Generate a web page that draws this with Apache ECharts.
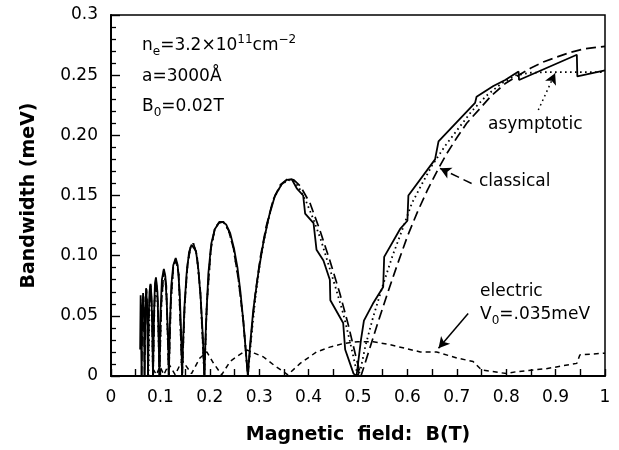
<!DOCTYPE html>
<html>
<head>
<meta charset="utf-8">
<title>Bandwidth vs magnetic field</title>
<script src="https://cdn.jsdelivr.net/npm/echarts@6/dist/echarts.min.js"></script>
<style>
  html, body { margin: 0; padding: 0; background: #fff; }
  #chart { width: 619px; height: 450px; }
</style>
</head>
<body>
<div id="chart"></div>
<script>
// [B (T), bandwidth (meV)]
const quantum = [
  [0.059, 0.022], [0.060, 0.067], [0.061, 0.030], [0.062, 0.000],
  [0.063, 0.050], [0.065, 0.069], [0.067, 0.045], [0.068, 0.000],
  [0.069, 0.040], [0.071, 0.073], [0.073, 0.060], [0.075, 0.000],
  [0.076, 0.045], [0.078, 0.070], [0.080, 0.0765], [0.082, 0.066], [0.084, 0.030], [0.085, 0.000],
  [0.087, 0.050], [0.089, 0.077], [0.091, 0.082], [0.094, 0.070], [0.096, 0.040], [0.098, 0.000],
  [0.100, 0.050], [0.103, 0.080], [0.107, 0.089], [0.110, 0.083], [0.113, 0.060], [0.116, 0.025], [0.117, 0.000],
  [0.119, 0.040], [0.122, 0.075], [0.126, 0.092], [0.131, 0.098], [0.135, 0.092], [0.139, 0.070], [0.142, 0.035], [0.144, 0.000],
  [0.146, 0.030], [0.149, 0.060], [0.153, 0.085], [0.158, 0.103], [0.163, 0.109], [0.167, 0.110], [0.172, 0.104],
  [0.177, 0.088], [0.182, 0.062], [0.186, 0.032], [0.189, 0.000],
  [0.192, 0.040], [0.197, 0.085], [0.203, 0.110], [0.210, 0.122], [0.218, 0.127], [0.226, 0.128], [0.233, 0.126],
  [0.241, 0.119], [0.249, 0.106], [0.256, 0.090], [0.262, 0.070], [0.268, 0.045], [0.273, 0.020], [0.277, 0.000],
  [0.282, 0.028], [0.288, 0.055], [0.298, 0.085], [0.308, 0.110], [0.320, 0.133], [0.332, 0.150], [0.345, 0.159],
  [0.356, 0.163], [0.366, 0.1635], [0.376, 0.156], [0.389, 0.150], [0.393, 0.135], [0.410, 0.127], [0.416, 0.105],
  [0.430, 0.096], [0.443, 0.080], [0.444, 0.063], [0.470, 0.044], [0.474, 0.022], [0.491, 0.002], [0.497, 0.000],
  [0.506, 0.030], [0.512, 0.046], [0.530, 0.060], [0.551, 0.074], [0.553, 0.099], [0.585, 0.122], [0.600, 0.129],
  [0.602, 0.150], [0.656, 0.180], [0.663, 0.195], [0.700, 0.211], [0.737, 0.227], [0.740, 0.232], [0.774, 0.241],
  [0.798, 0.246], [0.825, 0.253], [0.826, 0.246], [0.943, 0.267], [0.944, 0.249], [1.000, 0.254]
];

const classical = [
  [0.062, 0.000], [0.064, 0.064], [0.066, 0.066], [0.068, 0.000],
  [0.070, 0.055], [0.072, 0.072], [0.074, 0.050], [0.075, 0.000],
  [0.077, 0.055], [0.080, 0.076], [0.083, 0.055], [0.085, 0.000],
  [0.088, 0.060], [0.091, 0.081], [0.095, 0.060], [0.098, 0.000],
  [0.102, 0.060], [0.107, 0.088], [0.112, 0.075], [0.117, 0.000],
  [0.121, 0.060], [0.126, 0.090], [0.131, 0.097], [0.137, 0.085], [0.144, 0.000],
  [0.149, 0.058], [0.155, 0.093], [0.161, 0.107], [0.167, 0.110], [0.174, 0.100], [0.181, 0.070], [0.189, 0.000],
  [0.194, 0.060], [0.202, 0.105], [0.210, 0.122], [0.219, 0.128], [0.228, 0.128], [0.238, 0.121], [0.248, 0.106],
  [0.258, 0.080], [0.268, 0.045], [0.277, 0.000],
  [0.284, 0.035], [0.292, 0.068], [0.302, 0.098], [0.314, 0.124], [0.328, 0.146], [0.343, 0.159], [0.358, 0.164],
  [0.370, 0.163], [0.383, 0.158], [0.403, 0.1435], [0.423, 0.121], [0.443, 0.096], [0.463, 0.069], [0.480, 0.043],
  [0.497, 0.014], [0.506, 0.000],
  [0.520, 0.018], [0.540, 0.044], [0.560, 0.069], [0.580, 0.093], [0.600, 0.116], [0.620, 0.136], [0.640, 0.154],
  [0.663, 0.1726], [0.680, 0.185], [0.700, 0.198], [0.720, 0.210], [0.744, 0.221], [0.770, 0.233], [0.798, 0.243],
  [0.821, 0.249], [0.850, 0.256], [0.875, 0.261], [0.902, 0.265], [0.930, 0.269], [0.960, 0.272], [1.000, 0.274]
];

const asymptotic = [
  [0.076, 0.000], [0.078, 0.060], [0.080, 0.075], [0.083, 0.050], [0.085, 0.000],
  [0.088, 0.060], [0.091, 0.081], [0.095, 0.055], [0.098, 0.000],
  [0.102, 0.060], [0.107, 0.088], [0.112, 0.072], [0.117, 0.000],
  [0.121, 0.060], [0.126, 0.090], [0.131, 0.097], [0.137, 0.085], [0.144, 0.000],
  [0.149, 0.058], [0.155, 0.093], [0.161, 0.107], [0.167, 0.110], [0.174, 0.100], [0.181, 0.068], [0.189, 0.000],
  [0.194, 0.060], [0.202, 0.105], [0.210, 0.122], [0.219, 0.128], [0.228, 0.128], [0.238, 0.121], [0.248, 0.106],
  [0.258, 0.080], [0.268, 0.045], [0.277, 0.000],
  [0.284, 0.032], [0.292, 0.064], [0.302, 0.095], [0.314, 0.122], [0.328, 0.146], [0.343, 0.158], [0.358, 0.163],
  [0.370, 0.162], [0.380, 0.157], [0.395, 0.145], [0.410, 0.130], [0.425, 0.113], [0.440, 0.093], [0.455, 0.073],
  [0.470, 0.052], [0.483, 0.030], [0.495, 0.008], [0.500, 0.000],
  [0.505, 0.005], [0.515, 0.025], [0.530, 0.048], [0.550, 0.075], [0.570, 0.100], [0.590, 0.122], [0.609, 0.1435],
  [0.630, 0.160], [0.650, 0.175], [0.676, 0.191], [0.700, 0.204], [0.730, 0.220], [0.760, 0.233], [0.790, 0.243],
  [0.820, 0.250], [0.850, 0.252], [0.880, 0.2525], [0.950, 0.2525], [1.000, 0.2525]
];

const electric = [
  [0.085, 0.006], [0.092, 0.001], [0.099, 0.008], [0.107, 0.001], [0.117, 0.010], [0.130, 0.001],
  [0.144, 0.013], [0.163, 0.002], [0.180, 0.015], [0.194, 0.020], [0.207, 0.011], [0.224, 0.001],
  [0.241, 0.012], [0.254, 0.016], [0.275, 0.0216], [0.290, 0.019], [0.308, 0.016], [0.330, 0.009],
  [0.358, 0.001], [0.383, 0.0105], [0.416, 0.020], [0.443, 0.024], [0.470, 0.027], [0.500, 0.0285],
  [0.531, 0.0285], [0.565, 0.026], [0.626, 0.020], [0.659, 0.020], [0.700, 0.015], [0.733, 0.012],
  [0.750, 0.005], [0.801, 0.002], [0.821, 0.0036], [0.880, 0.006], [0.943, 0.0105], [0.949, 0.0175],
  [1.000, 0.019]
];

const xTickLabels = ['0', '0.1', '0.2', '0.3', '0.4', '0.5', '0.6', '0.7', '0.8', '0.9', '1'];
const yTickLabels = ['0', '0.05', '0.10', '0.15', '0.20', '0.25', '0.3'];

// arrows: [tail, head] in data coords
const classicalArrow = [[0.730, 0.160], [0.666, 0.1726]];
const asymptoticArrow = [[0.865, 0.221], [0.899, 0.2516]];
const electricArrow = [[0.723, 0.052], [0.663, 0.023]];

const FONT = "'DejaVu Sans', sans-serif";
const INK = '#000';

const chart = echarts.init(document.getElementById('chart'));

function arrow(pts, type) {
  return {
    silent: true,
    animation: false,
    symbol: ['none', 'arrow'],
    symbolSize: [9, 11],
    label: { show: false },
    lineStyle: { color: INK, width: 1.5, type: type },
    emphasis: { disabled: true },
    data: [[{ coord: pts[0] }, { coord: pts[1] }]]
  };
}

function line(name, data, type, width, extra) {
  return Object.assign({
    name: name,
    type: 'line',
    data: data,
    showSymbol: false,
    symbol: 'none',
    smooth: false,
    clip: true,
    animation: false,
    lineStyle: { color: INK, width: width, type: type },
    z: 3
  }, extra || {});
}

const textStyle = { fontFamily: FONT, fontSize: 17, fill: INK };

const option = {
  backgroundColor: '#fff',
  grid: {
    left: 111, right: 14, top: 15, bottom: 74,
    show: true, borderColor: INK, borderWidth: 1.5
  },
  xAxis: {
    type: 'value', min: 0, max: 1, interval: 0.1,
    name: 'Magnetic  field:  B(T)',
    nameLocation: 'middle', nameGap: 50,
    nameTextStyle: { fontFamily: FONT, fontSize: 19, fontWeight: 'bold', color: INK },
    axisLine: { lineStyle: { color: INK, width: 2 } },
    axisTick: { inside: true, length: 7, lineStyle: { color: INK, width: 1.4 } },
    minorTick: { show: true, splitNumber: 2, length: 7, lineStyle: { color: INK, width: 1.4 } },
    splitLine: { show: false },
    axisLabel: {
      color: INK, fontFamily: FONT, fontSize: 17, margin: 13,
      formatter: v => xTickLabels[Math.round(v * 10)]
    }
  },
  yAxis: {
    type: 'value', min: 0, max: 0.3, interval: 0.05,
    name: 'Bandwidth (meV)',
    nameLocation: 'middle', nameGap: 72, nameRotate: 90,
    nameTextStyle: { fontFamily: FONT, fontSize: 19, fontWeight: 'bold', color: INK },
    axisLine: { lineStyle: { color: INK, width: 2 } },
    axisTick: { inside: true, length: 9, lineStyle: { color: INK, width: 1.4 } },
    minorTick: { show: true, splitNumber: 5, length: 5, lineStyle: { color: INK, width: 1.3 } },
    splitLine: { show: false },
    axisLabel: {
      color: INK, fontFamily: FONT, fontSize: 17, margin: 13,
      formatter: v => yTickLabels[Math.round(v / 0.05)]
    }
  },
  series: [
    line('electric', electric, [5, 4], 1.5, { markLine: arrow(electricArrow, 'solid') }),
    line('classical', classical, [10, 5], 1.7, { markLine: arrow(classicalArrow, [9, 5]) }),
    line('asymptotic', asymptotic, [1.6, 3.4], 1.8, { markLine: arrow(asymptoticArrow, [1.6, 3.4]) }),
    line('quantum', quantum, 'solid', 1.8)
  ],
  graphic: [
    {
      type: 'text', left: 142, top: 34, silent: true,
      style: {
        text: '{t|n}{sub|e}{t|=3.2×10}{sup|11}{t|cm}{sup|−2}',
        fontFamily: FONT, fill: INK,
        rich: {
          t: { fontFamily: FONT, fontSize: 17, lineHeight: 24, verticalAlign: 'middle' },
          sub: { fontFamily: FONT, fontSize: 12, lineHeight: 24, verticalAlign: 'bottom' },
          sup: { fontFamily: FONT, fontSize: 12, lineHeight: 24, verticalAlign: 'top' }
        }
      }
    },
    { type: 'text', left: 142, top: 68, silent: true, style: Object.assign({ text: 'a=3000Å' }, textStyle) },
    {
      type: 'text', left: 142, top: 98, silent: true,
      style: {
        text: '{t|B}{sub|0}{t|=0.02T}',
        fontFamily: FONT, fill: INK,
        rich: {
          t: { fontFamily: FONT, fontSize: 17, lineHeight: 24, verticalAlign: 'middle' },
          sub: { fontFamily: FONT, fontSize: 12, lineHeight: 24, verticalAlign: 'bottom' }
        }
      }
    },
    { type: 'text', left: 488, top: 116, silent: true, style: Object.assign({ text: 'asymptotic' }, textStyle) },
    { type: 'text', left: 479, top: 173, silent: true, style: Object.assign({ text: 'classical' }, textStyle) },
    { type: 'text', left: 480, top: 283, silent: true, style: Object.assign({ text: 'electric' }, textStyle) },
    {
      type: 'text', left: 480, top: 306, silent: true,
      style: {
        text: '{t|V}{sub|0}{t|=.035meV}',
        fontFamily: FONT, fill: INK,
        rich: {
          t: { fontFamily: FONT, fontSize: 17, lineHeight: 24, verticalAlign: 'middle' },
          sub: { fontFamily: FONT, fontSize: 12, lineHeight: 24, verticalAlign: 'bottom' }
        }
      }
    }
  ]
};

chart.setOption(option);
</script>
</body>
</html>
